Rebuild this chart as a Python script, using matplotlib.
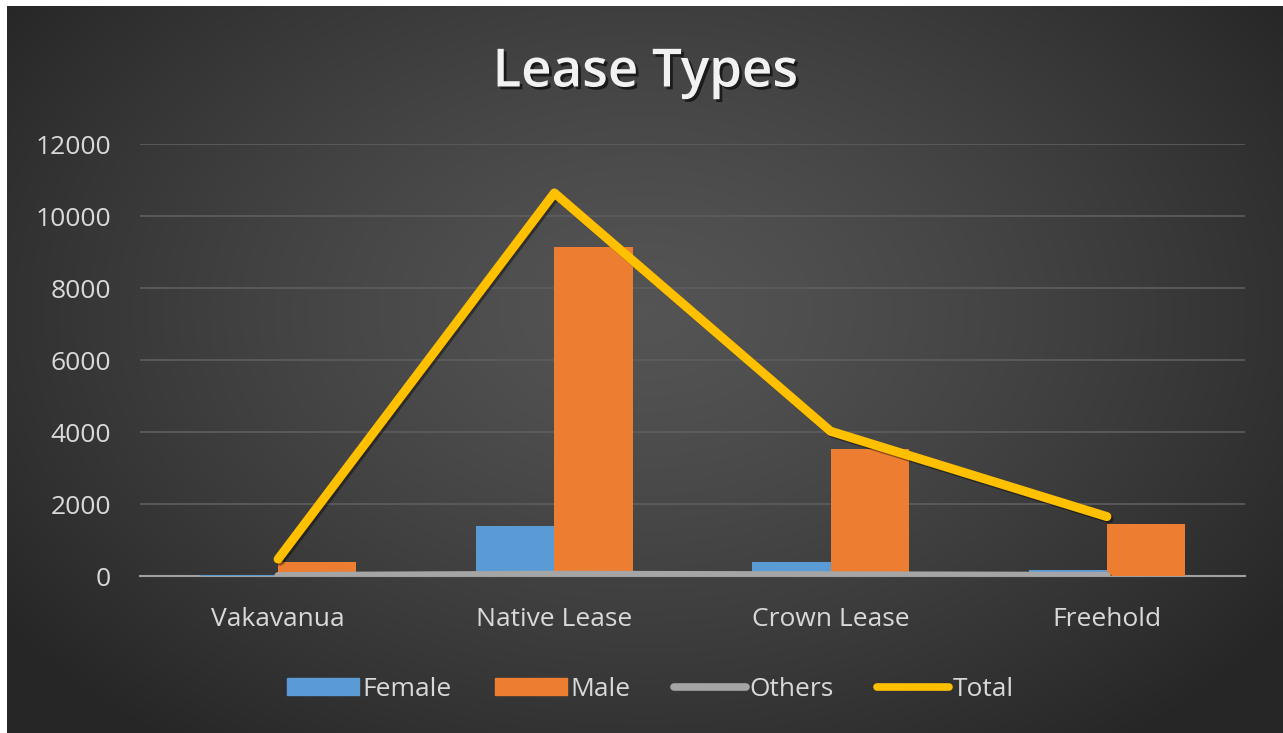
import numpy as np
import matplotlib
matplotlib.use('Agg')
from matplotlib import pyplot as plt
from matplotlib import patheffects as pe
from matplotlib.lines import Line2D
from matplotlib.patches import Patch

categories = ['Vakavanua', 'Native Lease', 'Crown Lease', 'Freehold']
female = [20, 1390, 390, 170]
male = [390, 9140, 3540, 1440]
others = [5, 40, 25, 10]
total = [470, 10640, 4020, 1650]
yticks = [0, 2000, 4000, 6000, 8000, 10000, 12000]

plt.rcParams['font.family'] = ['Open Sans', 'DejaVu Sans']

W, H = 1283, 733
fig = plt.figure(figsize=(W / 100, H / 100), dpi=100, facecolor='white')

# dark radial background, white strip top and left like the scan
bg = fig.add_axes([7 / W, 0, 1 - 7 / W, 1 - 6 / H])
yy, xx = np.mgrid[0:1:300j, 0:1:500j]
r = np.sqrt(((xx - 0.5) / 0.62) ** 2 + ((yy - 0.42) / 0.75) ** 2)
r = np.clip(r, 0, 1)
v = 0.33 - (0.33 - 0.15) * r ** 1.3
bg.imshow(np.dstack([v, v, v]), aspect='auto', extent=[0, 1, 0, 1], origin='upper')
bg.axis('off')

ax = fig.add_axes([140 / W, 1 - 576 / H, (1245 - 140) / W, (576 - 144) / H])
ax.patch.set_alpha(0)
x = np.arange(len(categories))
w = 0.283
lab_col = '#d9d9d9'

ax.bar(x - w / 2, female, w, color='#5b9bd5', zorder=3)
ax.bar(x + w / 2, male, w, color='#ed7d31', zorder=3)

shadow = [pe.SimpleLineShadow(offset=(1.5, -1.5), shadow_color='black', alpha=0.4), pe.Normal()]
ax.plot(x, others, color='#a5a5a5', lw=5.5, solid_capstyle='round', solid_joinstyle='round',
        zorder=4, path_effects=shadow)
ax.plot(x, total, color='#ffc000', lw=6.5, solid_capstyle='round', solid_joinstyle='round',
        zorder=5, path_effects=shadow)

ax.set_xlim(-0.5, len(categories) - 0.5)
ax.set_ylim(0, 12000)
ax.set_yticks(yticks)
ax.set_yticklabels([str(t) for t in yticks])
ax.set_xticks(x)
ax.set_xticklabels(categories)
ax.tick_params(axis='both', length=0, labelsize=19, colors=lab_col)
ax.tick_params(axis='y', pad=21)
ax.tick_params(axis='x', pad=22)
ax.grid(axis='y', color='#5e5e5e', lw=1.2, zorder=0)
for s in ['top', 'right', 'left']:
    ax.spines[s].set_visible(False)
ax.spines['bottom'].set_color('#a0a0a0')
ax.spines['bottom'].set_linewidth(1.5)
ax.spines['bottom'].set_zorder(2)

fig.text(0.503, 1 - 73 / H, 'Lease Types', ha='center', va='center', fontsize=38,
         fontweight='semibold', color='#f2f2f2',
         path_effects=[pe.withSimplePatchShadow(offset=(2, -2), shadow_rgbFace='black', alpha=0.6)])

handles = [Patch(color='#5b9bd5'), Patch(color='#ed7d31'),
           Line2D([], [], color='#a5a5a5', lw=5.5, solid_capstyle='round'),
           Line2D([], [], color='#ffc000', lw=5.5, solid_capstyle='round')]
leg = fig.legend(handles, ['Female', 'Male', 'Others', 'Total'], loc='center',
                 bbox_to_anchor=(0.507, 1 - 689 / H), ncol=4, frameon=False, fontsize=19,
                 handlelength=2.7, handleheight=0.6, handletextpad=0.15, columnspacing=1.65)
for t in leg.get_texts():
    t.set_color(lab_col)

fig.savefig('out.png', dpi=100, facecolor='white')
